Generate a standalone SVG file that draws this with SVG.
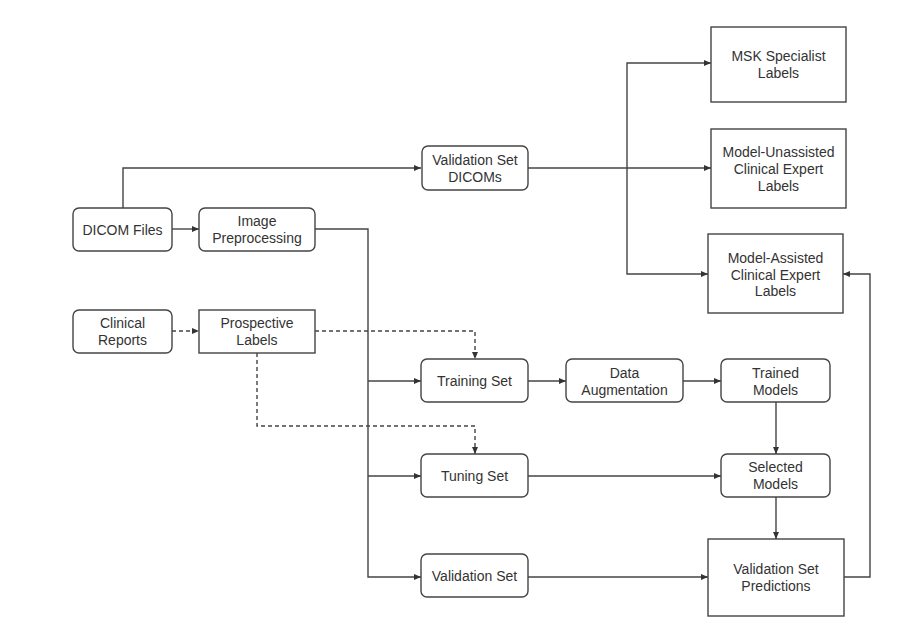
<svg xmlns="http://www.w3.org/2000/svg" width="922" height="627" viewBox="0 0 922 627">
<style>
.n{fill:#fff;stroke:#444;stroke-width:1.4}
.t{font-family:"Liberation Sans",Arial,sans-serif;font-size:14px;fill:#333;text-anchor:middle}
.c{fill:none;stroke:#444;stroke-width:1.4}
.d{fill:none;stroke:#444;stroke-width:1.4;stroke-dasharray:4 3}
</style>
<defs>
<marker id="a" markerUnits="userSpaceOnUse" markerWidth="7" markerHeight="6" refX="7" refY="3" orient="auto">
<path d="M0,0 L7,3 L0,6 z" fill="#333"/>
</marker>
</defs>
<rect width="922" height="627" fill="#fff"/>
<g id="connectors">
<path class="c" d="M123,208 V168 H421" marker-end="url(#a)"/>
<path class="c" d="M172,229 H199" marker-end="url(#a)"/>
<path class="c" d="M315,229 H368 V577 H421" marker-end="url(#a)"/>
<path class="c" d="M368,381 H421" marker-end="url(#a)"/>
<path class="c" d="M368,476 H421" marker-end="url(#a)"/>
<path class="d" d="M172,331 H199" marker-end="url(#a)"/>
<path class="d" d="M315,331 H475 V359" marker-end="url(#a)"/>
<path class="d" d="M257,353 V426 H475 V454" marker-end="url(#a)"/>
<path class="c" d="M528,381 H566" marker-end="url(#a)"/>
<path class="c" d="M683,381 H721" marker-end="url(#a)"/>
<path class="c" d="M776,402 V454" marker-end="url(#a)"/>
<path class="c" d="M528,476 H721" marker-end="url(#a)"/>
<path class="c" d="M776,497 V539" marker-end="url(#a)"/>
<path class="c" d="M528,577 H708" marker-end="url(#a)"/>
<path class="c" d="M844,577 H870 V274 H843" marker-end="url(#a)"/>
<path class="c" d="M528,168 H711" marker-end="url(#a)"/>
<path class="c" d="M627,168 V63 H711" marker-end="url(#a)"/>
<path class="c" d="M627,168 V274 H708" marker-end="url(#a)"/>
</g>
<g id="dicom-files"><rect class="n" x="73" y="208" width="99" height="43" rx="6"/><text class="t" x="122.5" y="234.5">DICOM Files</text></g>
<g id="image-preprocessing"><rect class="n" x="199" y="208" width="116" height="43" rx="6"/><text class="t" x="257" y="226">Image</text><text class="t" x="257" y="243">Preprocessing</text></g>
<g id="clinical-reports"><rect class="n" x="73" y="310" width="99" height="43" rx="6"/><text class="t" x="122.5" y="328">Clinical</text><text class="t" x="122.5" y="345">Reports</text></g>
<g id="prospective-labels"><rect class="n" x="199" y="310" width="116" height="43"/><text class="t" x="257" y="328">Prospective</text><text class="t" x="257" y="345">Labels</text></g>
<g id="validation-set-dicoms"><rect class="n" x="422" y="146" width="106" height="44" rx="6"/><text class="t" x="475" y="164.5">Validation Set</text><text class="t" x="475" y="181.5">DICOMs</text></g>
<g id="training-set"><rect class="n" x="421" y="359" width="107" height="43" rx="6"/><text class="t" x="474.5" y="386">Training Set</text></g>
<g id="tuning-set"><rect class="n" x="421" y="454" width="107" height="43" rx="6"/><text class="t" x="474.5" y="481">Tuning Set</text></g>
<g id="validation-set"><rect class="n" x="421" y="554" width="107" height="43" rx="6"/><text class="t" x="474.5" y="581">Validation Set</text></g>
<g id="data-augmentation"><rect class="n" x="566" y="359" width="117" height="43" rx="6"/><text class="t" x="624.5" y="377.5">Data</text><text class="t" x="624.5" y="394.5">Augmentation</text></g>
<g id="trained-models"><rect class="n" x="721" y="359" width="109" height="43" rx="6"/><text class="t" x="775.5" y="377.5">Trained</text><text class="t" x="775.5" y="394.5">Models</text></g>
<g id="selected-models"><rect class="n" x="721" y="454" width="109" height="43" rx="6"/><text class="t" x="775.5" y="472">Selected</text><text class="t" x="775.5" y="489">Models</text></g>
<g id="validation-set-predictions"><rect class="n" x="708" y="539" width="136" height="77"/><text class="t" x="776" y="574">Validation Set</text><text class="t" x="776" y="591">Predictions</text></g>
<g id="msk-specialist-labels"><rect class="n" x="711" y="27" width="135" height="75"/><text class="t" x="778.5" y="61">MSK Specialist</text><text class="t" x="778.5" y="78">Labels</text></g>
<g id="model-unassisted"><rect class="n" x="711" y="129" width="135" height="79"/><text class="t" x="778.5" y="157">Model-Unassisted</text><text class="t" x="778.5" y="174">Clinical Expert</text><text class="t" x="778.5" y="191">Labels</text></g>
<g id="model-assisted"><rect class="n" x="708" y="234" width="135" height="79"/><text class="t" x="775.5" y="262.5">Model-Assisted</text><text class="t" x="775.5" y="279.5">Clinical Expert</text><text class="t" x="775.5" y="296">Labels</text></g>
</svg>
